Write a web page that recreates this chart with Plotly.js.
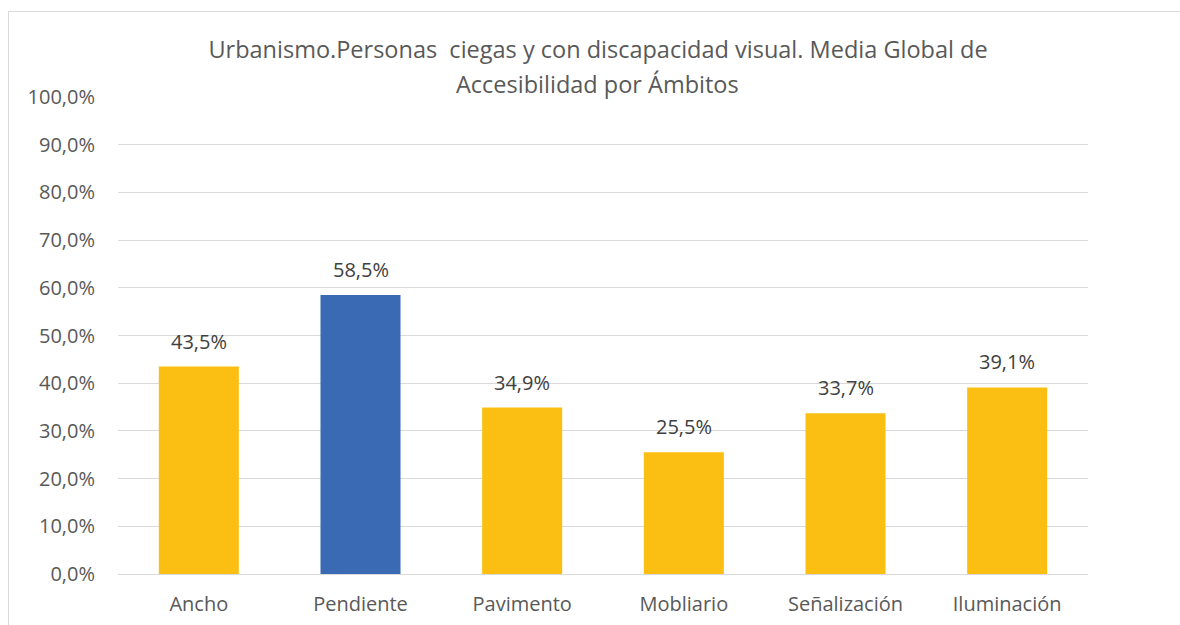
<!DOCTYPE html>
<html>
<head>
<meta charset="utf-8">
<script src="https://cdn.plot.ly/plotly-3.0.1.min.js"></script>
<style>
html,body{margin:0;padding:0;background:#fff;}
#frame{position:absolute;left:8px;top:11px;width:1180px;height:630px;border:1px solid #d9d9d9;box-sizing:border-box;}
#chart{position:absolute;left:0;top:0;width:1180px;height:625px;}
</style>
</head>
<body>
<div id="frame"></div>
<div id="chart"></div>
<script>
const categories = ["Ancho", "Pendiente", "Pavimento", "Mobliario", "Señalización", "Iluminación"];
const values = [0.435, 0.585, 0.349, 0.255, 0.337, 0.391];
const barColors = ["#FBBF14", "#3A6AB4", "#FBBF14", "#FBBF14", "#FBBF14", "#FBBF14"];
const yTickVals = [0, 0.1, 0.2, 0.3, 0.4, 0.5, 0.6, 0.7, 0.8, 0.9, 1.0];
const titleLine1 = "Urbanismo.Personas\u00a0 ciegas y con discapacidad visual. Media Global de";
const titleLine2 = "Accesibilidad por Ámbitos";

const FONT = "Open Sans, Noto Sans, sans-serif";

const fmt = v => (v * 100).toFixed(1).replace(".", ",") + "%";

const trace = {
  type: "bar",
  x: categories,
  y: values,
  marker: {color: barColors},
  hoverinfo: "x+y"
};

const annotations = categories.map((c, i) => ({
  x: c, y: values[i], xref: "x", yref: "y",
  text: fmt(values[i]),
  showarrow: false,
  yanchor: "bottom",
  yshift: 10,
  font: {family: FONT, size: 20, color: "#404040"}
}));
annotations.push({
  x: 0.4948, y: 1.0273, xref: "paper", yref: "paper",
  text: titleLine2, showarrow: false,
  xanchor: "center", yanchor: "middle",
  font: {family: FONT, size: 23.5, color: "#595959"}
});

const layout = {
  width: 1180, height: 625,
  margin: {l: 118, r: 92, t: 97, b: 51},
  paper_bgcolor: "rgba(0,0,0,0)",
  plot_bgcolor: "rgba(0,0,0,0)",
  separators: ",.",
  bargap: 0.505,
  showlegend: false,
  title: {
    text: titleLine1,
    x: 0.5068, xref: "container", xanchor: "center",
    y: 0.92, yref: "container", yanchor: "middle",
    font: {family: FONT, size: 23.5, color: "#595959"}
  },
  xaxis: {
    type: "category",
    showgrid: false,
    showline: false,
    zeroline: false,
    ticks: "",
    ticklabelstandoff: 16,
    tickfont: {family: FONT, size: 20, color: "#595959"}
  },
  yaxis: {
    range: [0, 1.0],
    tickvals: yTickVals,
    tickformat: ".1%",
    showgrid: true,
    gridcolor: "#d9d9d9",
    gridwidth: 1,
    zeroline: true,
    zerolinecolor: "#d9d9d9",
    zerolinewidth: 1,
    showline: false,
    ticks: "",
    ticklabelstandoff: 22,
    tickfont: {family: FONT, size: 20, color: "#595959"}
  },
  annotations: annotations
};

Plotly.newPlot("chart", [trace], layout, {displayModeBar: false, staticPlot: true});
</script>
</body>
</html>
